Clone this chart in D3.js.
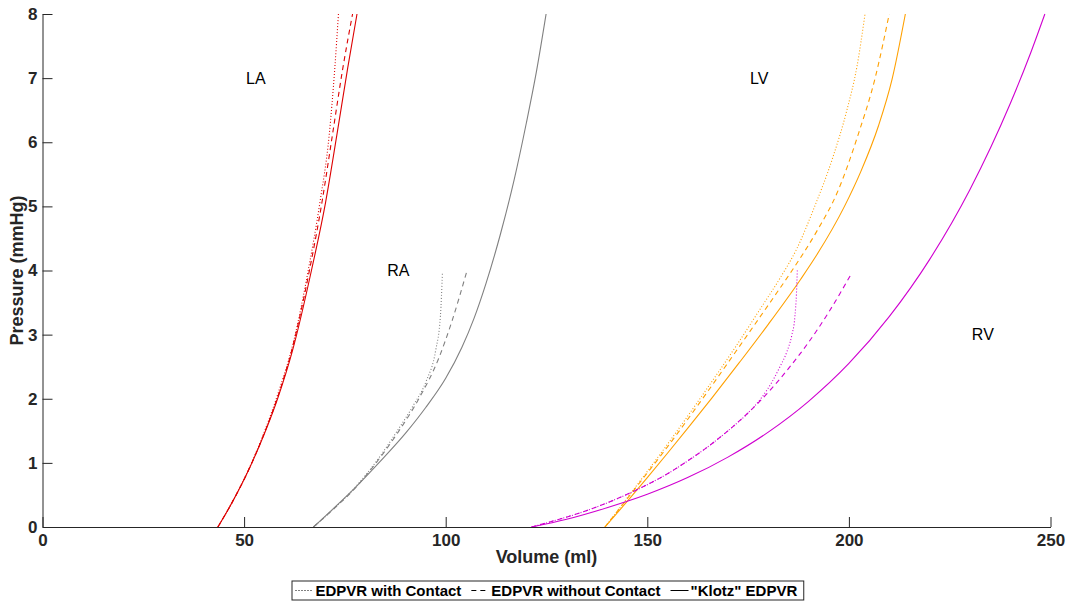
<!DOCTYPE html>
<html>
<head>
<meta charset="utf-8">
<script src="https://cdn.jsdelivr.net/npm/d3@7"></script>
<style>
  body { margin: 0; background: #fff; }
  text { font-family: "Liberation Sans", Arial, Helvetica, sans-serif; }
</style>
</head>
<body>
<svg id="chart" width="1072" height="603"></svg>
<script>
// end-diastolic P-V curves, volume (ml) vs pressure (mmHg)
const xTicks = [0, 50, 100, 150, 200, 250];
const yTicks = [0, 1, 2, 3, 4, 5, 6, 7, 8];

// left atrium
const laContact = [[43.5,0],[47,0.38],[51.5,0.95],[55,1.48],[58.3,2.06],[62.5,2.95],[65.9,4.0],[68.8,5.06],[71.1,6.11],[72.5,7.16],[73.4,8.0]];
const laNoContact = [[43.5,0],[47,0.38],[51.5,0.94],[55,1.46],[58.3,2.02],[62,2.8],[66.2,4.0],[69.3,5.06],[71.9,6.11],[74.5,7.16],[76.9,8.0]];
const laKlotz = [[43.5,0],[47,0.38],[51.5,0.94],[55,1.45],[58.3,2.0],[62,2.75],[66.7,4.0],[70.2,5.06],[73,6.11],[75.7,7.16],[78.0,8.0]];

// right atrium
const raContact = [[67.2,0],[72,0.27],[77,0.58],[83.7,1.1],[88,1.5],[92,1.9],[95.2,2.28],[97.5,2.75],[98.7,3.3],[99.2,3.98]];
const raNoContact = [[67.2,0],[72,0.27],[77,0.57],[83.7,1.08],[88,1.46],[93.6,2.03],[98.2,2.62],[101.5,3.2],[105.2,3.98]];
const raKlotz = [[67.2,0],[72,0.28],[77,0.58],[83.7,1.02],[90,1.46],[95,1.86],[100,2.32],[104,2.8],[107,3.25],[110,3.8],[113.5,4.55],[117,5.42],[120,6.3],[122.5,7.1],[124.9,8.0]];

// left ventricle
const lvContact = [[139.5,0],[142,0.2],[144.5,0.41],[148.6,0.75],[155,1.29],[164.6,2.14],[172,2.82],[178,3.4],[183.3,3.92],[187,4.33],[191.2,4.95],[196.1,5.78],[199.5,6.5],[202,7.18],[204,8.0]];
const lvNoContact = [[139.5,0],[142,0.2],[144.5,0.4],[148.6,0.73],[155,1.25],[164.6,2.08],[172,2.74],[178,3.28],[182.2,3.66],[185.9,4.0],[192.2,4.63],[197,5.2],[202.3,6.12],[206.5,7.0],[210,8.0]];
const lvKlotz = [[139.5,0],[145.7,0.45],[150,0.77],[155,1.15],[160.3,1.56],[166,2.01],[172.9,2.57],[180,3.16],[188,3.86],[192.2,4.26],[198.9,5.0],[203,5.55],[207.3,6.25],[210.7,6.98],[214,8.0]];

// right ventricle
const rvContact = [[121.3,0],[127,0.1],[133.3,0.22],[140,0.375],[145,0.51],[150,0.66],[155,0.83],[160,1.03],[165,1.25],[170,1.5],[175,1.78],[178.5,2.03],[181,2.27],[182.9,2.5],[184.6,2.73],[185.8,2.98],[186.6,3.28],[187,3.65],[187.2,4.0]];
const rvNoContact = [[121.3,0],[127,0.1],[133.3,0.22],[140,0.375],[145,0.51],[150,0.66],[155,0.83],[160,1.03],[165,1.25],[170,1.5],[175,1.78],[180,2.1],[185,2.47],[190,2.88],[195,3.35],[200.8,3.97]];
const rvKlotz = [[121.3,0],[130,0.12],[140,0.3],[150,0.51],[160,0.77],[170,1.09],[180,1.48],[190,1.96],[200,2.55],[210,3.28],[220,4.17],[230,5.26],[240,6.6],[245,7.38],[248.6,8.0]];

const chamberNames = ["LA", "RA", "LV", "RV"];
const chamberVol = [50, 85, 175, 230];
const chamberPres = [7, 4, 7, 3];

const legendNames = ["EDPVR with Contact", "EDPVR without Contact", "\"Klotz\" EDPVR"];

const colors = { LA: "#dd0000", RA: "#808080", LV: "#ffa000", RV: "#d000d0" };
const dashes = { contact: "1,2", noContact: "5,4", klotz: null };

const series = [
  { d: laContact, c: colors.LA, s: dashes.contact },
  { d: laNoContact, c: colors.LA, s: dashes.noContact },
  { d: laKlotz, c: colors.LA, s: dashes.klotz },
  { d: raContact, c: colors.RA, s: dashes.contact },
  { d: raNoContact, c: colors.RA, s: dashes.noContact },
  { d: raKlotz, c: colors.RA, s: dashes.klotz },
  { d: lvContact, c: colors.LV, s: dashes.contact },
  { d: lvNoContact, c: colors.LV, s: dashes.noContact },
  { d: lvKlotz, c: colors.LV, s: dashes.klotz },
  { d: rvContact, c: colors.RV, s: dashes.contact },
  { d: rvNoContact, c: colors.RV, s: dashes.noContact },
  { d: rvKlotz, c: colors.RV, s: dashes.klotz }
];

const svg = d3.select("#chart");
const axisColor = "#262626";

const x = d3.scaleLinear().domain([0, 250]).range([42.5, 1050.5]);
const y = d3.scaleLinear().domain([0, 8]).range([527, 14]);

const line = d3.line()
  .x(d => x(d[0]))
  .y(d => y(d[1]))
  .curve(d3.curveMonotoneX);

svg.append("g")
  .selectAll("path")
  .data(series)
  .enter()
  .append("path")
    .attr("d", d => line(d.d))
    .attr("fill", "none")
    .attr("stroke", d => d.c)
    .attr("stroke-width", 1.1)
    .attr("stroke-dasharray", d => d.s);

// axes, ticks pointing inside
const xAxis = svg.append("g")
  .attr("transform", "translate(0," + y(0) + ")")
  .call(d3.axisBottom(x).tickValues(xTicks).tickSizeInner(-10).tickSizeOuter(0).tickPadding(7));

const yAxis = svg.append("g")
  .attr("transform", "translate(" + x(0) + ",0)")
  .call(d3.axisLeft(y).tickValues(yTicks).tickSizeInner(-10).tickSizeOuter(0).tickPadding(5));

[xAxis, yAxis].forEach(a => {
  a.select(".domain").attr("stroke", axisColor).attr("stroke-width", 1);
  a.selectAll(".tick line").attr("stroke", axisColor);
  a.selectAll(".tick text")
    .attr("fill", axisColor)
    .style("font-size", "17px")
    .style("font-weight", "bold")
    .style("font-family", "'Liberation Sans', Arial, sans-serif");
});

svg.append("text")
  .attr("x", 546.5)
  .attr("y", 563)
  .attr("text-anchor", "middle")
  .attr("fill", axisColor)
  .style("font-size", "18px")
  .style("font-weight", "bold")
  .text("Volume (ml)");

svg.append("text")
  .attr("transform", "translate(23,270.5) rotate(-90)")
  .attr("text-anchor", "middle")
  .attr("fill", axisColor)
  .style("font-size", "18px")
  .style("font-weight", "bold")
  .text("Pressure (mmHg)");

// chamber names
svg.append("g")
  .selectAll("text")
  .data(chamberNames)
  .enter()
  .append("text")
    .attr("x", (d, i) => x(chamberVol[i]) + 2)
    .attr("y", (d, i) => y(chamberPres[i]))
    .attr("dy", "0.35em")
    .attr("fill", "#000")
    .style("font-size", "16px")
    .text(d => d);

// legend
const legend = svg.append("g");
const box = legend.append("rect")
  .attr("fill", "#fff")
  .attr("stroke", axisColor)
  .attr("stroke-width", 1);

const legendDash = [dashes.contact, dashes.noContact, dashes.klotz];
let cx = 0;
legendNames.forEach((name, i) => {
  legend.append("line")
    .attr("x1", cx + 3).attr("x2", cx + 21)
    .attr("y1", 0).attr("y2", 0)
    .attr("stroke", "#000")
    .attr("stroke-width", 1)
    .attr("stroke-dasharray", legendDash[i]);
  const t = legend.append("text")
    .attr("x", cx + 23)
    .attr("y", 0)
    .attr("dy", "0.35em")
    .attr("fill", "#000")
    .style("font-size", "15px")
    .style("font-weight", "bold")
    .text(name);
  cx += 23 + t.node().getComputedTextLength() + 7;
});
box.attr("x", -0.5).attr("y", -9.5).attr("width", cx).attr("height", 19);
legend.attr("transform", "translate(" + Math.round(548 - cx / 2) + ".5,590.5)");
</script>
</body>
</html>
